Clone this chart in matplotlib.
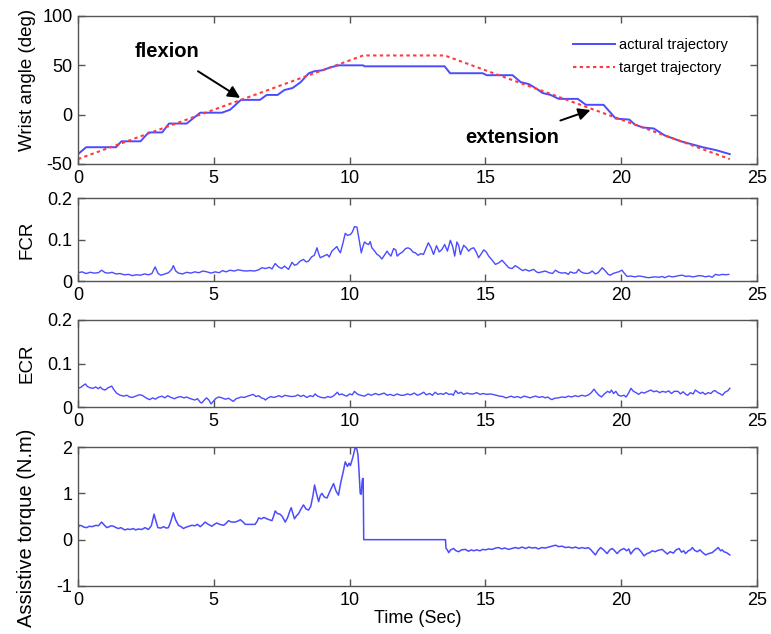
"""Wrist angle, FCR/ECR activity and assistive torque over time, four stacked panels."""

import matplotlib

matplotlib.use("Agg")

import matplotlib.pyplot as plt  # noqa: E402
from matplotlib.ticker import FormatStrFormatter  # noqa: E402

plt.rcParams["axes.unicode_minus"] = False
FONT = ["Liberation Sans", "DejaVu Sans"]

# --- panel 1: wrist angle (deg) ---
target_t = [0, 10.5, 13.5, 24]
target_deg = [-45, 60, 60, -45]

actual_t = [0, 0.3, 1.4, 1.6, 2.3, 2.6, 3.1, 3.35, 4.0, 4.5, 5.3, 5.6, 6.0,
            6.7, 6.95, 7.35, 7.6, 7.9, 8.2, 8.5, 8.7, 9.0, 9.3, 9.6, 10.0,
            10.5, 10.55, 13.5, 13.7, 14.9, 15.05, 16.0, 16.3, 16.6, 16.9,
            17.1, 17.4, 17.7, 18.4, 18.7, 19.35, 19.8, 20.3, 20.5, 20.8,
            21.2, 21.6, 22.2, 22.6, 23.0, 23.5, 24.0]
actual_deg = [-40, -33, -33, -27, -27, -18, -18, -9, -9, 2, 2, 5, 15,
              15, 20, 20, 25, 27, 33, 42, 44, 45, 48, 50, 50,
              50, 49, 49, 42, 42, 40, 40, 33, 31, 26,
              22, 20, 16, 16, 10, 10, -4, -5, -10, -13,
              -14, -21, -27, -30, -33, -36, -40]

# --- panel 2: FCR, (time, value) ---
fcr_points = [
    (0.0, 0.020), (0.15, 0.022), (0.3, 0.018), (0.45, 0.021), (0.6, 0.019),
    (0.75, 0.020), (0.87, 0.026), (1.0, 0.020), (1.12, 0.019), (1.25, 0.021),
    (1.4, 0.017), (1.55, 0.018), (1.7, 0.015), (1.86, 0.016), (2.0, 0.013),
    (2.15, 0.015), (2.3, 0.014), (2.45, 0.017), (2.6, 0.015), (2.72, 0.018),
    (2.84, 0.034), (2.95, 0.018), (3.05, 0.014), (3.2, 0.017), (3.33, 0.020),
    (3.45, 0.028), (3.51, 0.037), (3.6, 0.024), (3.7, 0.019), (3.85, 0.017),
    (4.0, 0.021), (4.15, 0.019), (4.3, 0.022), (4.45, 0.020), (4.6, 0.024),
    (4.75, 0.022), (4.9, 0.019), (5.05, 0.022), (5.2, 0.020), (5.32, 0.025),
    (5.45, 0.022), (5.6, 0.026), (5.75, 0.024), (5.9, 0.027), (6.05, 0.025),
    (6.2, 0.024), (6.35, 0.025), (6.5, 0.024), (6.65, 0.027), (6.77, 0.032),
    (6.9, 0.030), (7.05, 0.033), (7.14, 0.029), (7.26, 0.042), (7.38, 0.034),
    (7.5, 0.030), (7.6, 0.036), (7.75, 0.028), (7.88, 0.045), (7.97, 0.038),
    (8.06, 0.040), (8.18, 0.048), (8.3, 0.052), (8.4, 0.046), (8.49, 0.048),
    (8.6, 0.058), (8.7, 0.062), (8.8, 0.080), (8.86, 0.066), (8.92, 0.056),
    (9.05, 0.060), (9.17, 0.064), (9.25, 0.058), (9.35, 0.072), (9.45, 0.078),
    (9.53, 0.083), (9.6, 0.074), (9.66, 0.068), (9.75, 0.090), (9.84, 0.115),
    (9.92, 0.110), (10.03, 0.112), (10.1, 0.118), (10.18, 0.131), (10.27, 0.130),
    (10.35, 0.100), (10.43, 0.068), (10.5, 0.085), (10.55, 0.094), (10.62, 0.090),
    (10.7, 0.088), (10.76, 0.095), (10.82, 0.080), (10.9, 0.074), (11.0, 0.065),
    (11.1, 0.060), (11.19, 0.053), (11.3, 0.064), (11.38, 0.072), (11.44, 0.066),
    (11.52, 0.060), (11.62, 0.078), (11.7, 0.075), (11.75, 0.060), (11.85, 0.066),
    (11.95, 0.070), (12.06, 0.078), (12.15, 0.080), (12.24, 0.077), (12.33, 0.070),
    (12.42, 0.068), (12.52, 0.062), (12.62, 0.066), (12.72, 0.064), (12.82, 0.080),
    (12.9, 0.092), (13.0, 0.080), (13.09, 0.064), (13.2, 0.085), (13.3, 0.070),
    (13.4, 0.076), (13.5, 0.088), (13.6, 0.072), (13.71, 0.098), (13.8, 0.082),
    (13.87, 0.060), (13.95, 0.094), (14.02, 0.085), (14.08, 0.064), (14.2, 0.086),
    (14.3, 0.080), (14.38, 0.072), (14.48, 0.078), (14.57, 0.080), (14.66, 0.070),
    (14.75, 0.056), (14.85, 0.066), (14.94, 0.075), (15.03, 0.070), (15.12, 0.060),
    (15.25, 0.050), (15.37, 0.040), (15.5, 0.044), (15.61, 0.050), (15.72, 0.042),
    (15.86, 0.032), (15.98, 0.030), (16.1, 0.037), (16.2, 0.033), (16.28, 0.029),
    (16.38, 0.025), (16.47, 0.028), (16.6, 0.024), (16.78, 0.028), (16.88, 0.022),
    (16.96, 0.020), (17.08, 0.022), (17.2, 0.024), (17.35, 0.020), (17.47, 0.018),
    (17.58, 0.026), (17.7, 0.021), (17.82, 0.019), (17.95, 0.020), (18.05, 0.016),
    (18.13, 0.022), (18.25, 0.019), (18.35, 0.020), (18.43, 0.028), (18.52, 0.022),
    (18.62, 0.019), (18.75, 0.018), (18.85, 0.020), (18.93, 0.024), (19.05, 0.017),
    (19.15, 0.020), (19.3, 0.032), (19.42, 0.024), (19.52, 0.016), (19.6, 0.014),
    (19.7, 0.018), (19.79, 0.020), (19.9, 0.022), (20.03, 0.026), (20.12, 0.018),
    (20.22, 0.011), (20.35, 0.012), (20.5, 0.010), (20.65, 0.012), (20.77, 0.011),
    (20.9, 0.009), (21.0, 0.008), (21.14, 0.009), (21.25, 0.010), (21.4, 0.009),
    (21.51, 0.011), (21.6, 0.008), (21.75, 0.012), (21.88, 0.010), (22.0, 0.011),
    (22.12, 0.013), (22.25, 0.014), (22.38, 0.011), (22.5, 0.012), (22.62, 0.010),
    (22.74, 0.011), (22.85, 0.013), (23.0, 0.012), (23.1, 0.010), (23.23, 0.012),
    (23.35, 0.009), (23.47, 0.016), (23.6, 0.014), (23.72, 0.016), (23.85, 0.015),
    (23.96, 0.016),
]

# --- panel 3: ECR, (time, value) ---
ecr_points = [
    (0.0, 0.043), (0.1, 0.045), (0.2, 0.050), (0.27, 0.053), (0.35, 0.047),
    (0.45, 0.044), (0.55, 0.043), (0.65, 0.046), (0.75, 0.042), (0.82, 0.046),
    (0.9, 0.041), (1.0, 0.039), (1.1, 0.044), (1.24, 0.048), (1.32, 0.040),
    (1.42, 0.032), (1.55, 0.027), (1.68, 0.025), (1.8, 0.027), (1.9, 0.023),
    (2.0, 0.022), (2.12, 0.025), (2.25, 0.028), (2.36, 0.027), (2.48, 0.022),
    (2.56, 0.019), (2.64, 0.017), (2.75, 0.021), (2.85, 0.018), (2.95, 0.022),
    (3.09, 0.025), (3.2, 0.021), (3.3, 0.026), (3.42, 0.022), (3.55, 0.019),
    (3.65, 0.022), (3.78, 0.024), (3.9, 0.021), (4.0, 0.023), (4.1, 0.020),
    (4.2, 0.018), (4.3, 0.016), (4.4, 0.019), (4.5, 0.011), (4.55, 0.009),
    (4.62, 0.014), (4.73, 0.021), (4.82, 0.016), (4.9, 0.007), (4.98, 0.013),
    (5.08, 0.020), (5.18, 0.023), (5.3, 0.021), (5.42, 0.018), (5.55, 0.020),
    (5.64, 0.016), (5.72, 0.013), (5.82, 0.019), (5.92, 0.021), (6.0, 0.023),
    (6.12, 0.022), (6.25, 0.025), (6.35, 0.027), (6.45, 0.029), (6.55, 0.024),
    (6.65, 0.026), (6.75, 0.021), (6.85, 0.019), (6.9, 0.016), (7.0, 0.021),
    (7.1, 0.024), (7.2, 0.022), (7.27, 0.023), (7.4, 0.026), (7.5, 0.023),
    (7.62, 0.027), (7.75, 0.025), (7.88, 0.024), (8.0, 0.025), (8.1, 0.028),
    (8.2, 0.024), (8.3, 0.027), (8.42, 0.022), (8.55, 0.026), (8.65, 0.024),
    (8.73, 0.030), (8.82, 0.025), (8.95, 0.022), (9.09, 0.021), (9.2, 0.024),
    (9.3, 0.022), (9.42, 0.026), (9.55, 0.034), (9.62, 0.028), (9.72, 0.030),
    (9.8, 0.027), (9.9, 0.025), (10.0, 0.030), (10.1, 0.028), (10.18, 0.036),
    (10.28, 0.030), (10.4, 0.027), (10.55, 0.025), (10.68, 0.030), (10.8, 0.027),
    (10.95, 0.031), (11.08, 0.028), (11.18, 0.030), (11.27, 0.032), (11.38, 0.027),
    (11.5, 0.029), (11.62, 0.026), (11.75, 0.030), (11.88, 0.027), (12.0, 0.027),
    (12.12, 0.030), (12.25, 0.028), (12.38, 0.032), (12.5, 0.027), (12.62, 0.030),
    (12.73, 0.034), (12.82, 0.028), (12.95, 0.031), (13.05, 0.027), (13.15, 0.034),
    (13.25, 0.029), (13.35, 0.031), (13.45, 0.029), (13.55, 0.033), (13.65, 0.029),
    (13.75, 0.030), (13.82, 0.027), (13.9, 0.038), (14.0, 0.031), (14.1, 0.034),
    (14.2, 0.029), (14.32, 0.032), (14.45, 0.030), (14.55, 0.030), (14.68, 0.033),
    (14.8, 0.029), (14.92, 0.031), (15.05, 0.029), (15.18, 0.030), (15.27, 0.029),
    (15.4, 0.027), (15.52, 0.025), (15.65, 0.024), (15.75, 0.021), (15.82, 0.022),
    (15.95, 0.025), (16.05, 0.022), (16.18, 0.024), (16.3, 0.021), (16.42, 0.025),
    (16.55, 0.023), (16.65, 0.021), (16.73, 0.023), (16.85, 0.025), (16.98, 0.022),
    (17.1, 0.024), (17.2, 0.021), (17.3, 0.023), (17.38, 0.019), (17.45, 0.017),
    (17.55, 0.020), (17.68, 0.021), (17.82, 0.023), (17.95, 0.022), (18.05, 0.025),
    (18.18, 0.023), (18.3, 0.026), (18.42, 0.024), (18.55, 0.027), (18.68, 0.025),
    (18.8, 0.028), (18.9, 0.033), (19.0, 0.041), (19.08, 0.034), (19.18, 0.027),
    (19.27, 0.023), (19.38, 0.030), (19.5, 0.036), (19.58, 0.033), (19.64, 0.039),
    (19.72, 0.031), (19.8, 0.036), (19.9, 0.027), (20.0, 0.025), (20.1, 0.027),
    (20.18, 0.023), (20.28, 0.033), (20.36, 0.043), (20.45, 0.036), (20.55, 0.033),
    (20.64, 0.029), (20.75, 0.034), (20.85, 0.032), (20.98, 0.036), (21.09, 0.039),
    (21.2, 0.035), (21.3, 0.037), (21.42, 0.033), (21.52, 0.036), (21.64, 0.034),
    (21.75, 0.037), (21.85, 0.031), (21.95, 0.036), (22.09, 0.036), (22.18, 0.030),
    (22.28, 0.035), (22.38, 0.029), (22.45, 0.027), (22.55, 0.033), (22.65, 0.030),
    (22.73, 0.039), (22.82, 0.035), (22.92, 0.031), (23.0, 0.034), (23.09, 0.029),
    (23.2, 0.033), (23.3, 0.031), (23.38, 0.036), (23.45, 0.038), (23.55, 0.033),
    (23.65, 0.030), (23.73, 0.027), (23.82, 0.034), (23.92, 0.037), (24.0, 0.043),
]

# --- panel 4: assistive torque (N.m), (time, value) ---
torque_points = [
    (0.0, 0.26), (0.06, 0.31), (0.13, 0.30), (0.22, 0.27), (0.32, 0.26),
    (0.42, 0.29), (0.5, 0.28), (0.57, 0.29), (0.66, 0.31), (0.75, 0.30),
    (0.87, 0.38), (0.96, 0.32), (1.06, 0.26), (1.15, 0.28), (1.22, 0.30),
    (1.3, 0.29), (1.4, 0.26), (1.49, 0.24), (1.58, 0.26), (1.66, 0.23),
    (1.73, 0.21), (1.82, 0.23), (1.92, 0.22), (2.04, 0.24), (2.12, 0.21),
    (2.22, 0.23), (2.35, 0.22), (2.47, 0.26), (2.59, 0.22), (2.7, 0.30),
    (2.8, 0.55), (2.87, 0.40), (2.94, 0.26), (3.05, 0.25), (3.15, 0.28),
    (3.25, 0.25), (3.33, 0.26), (3.42, 0.40), (3.51, 0.58), (3.6, 0.42),
    (3.7, 0.31), (3.8, 0.28), (3.88, 0.24), (3.98, 0.27), (4.08, 0.29),
    (4.19, 0.31), (4.3, 0.30), (4.4, 0.33), (4.5, 0.28), (4.6, 0.33),
    (4.68, 0.38), (4.8, 0.33), (4.93, 0.29), (5.02, 0.33), (5.11, 0.36),
    (5.22, 0.33), (5.36, 0.31), (5.45, 0.35), (5.54, 0.41), (5.65, 0.38),
    (5.79, 0.38), (5.88, 0.40), (5.98, 0.43), (6.08, 0.38), (6.16, 0.33),
    (6.3, 0.33), (6.42, 0.33), (6.52, 0.33), (6.6, 0.40), (6.65, 0.47),
    (6.75, 0.45), (6.85, 0.48), (6.95, 0.45), (7.05, 0.43), (7.14, 0.41),
    (7.2, 0.50), (7.26, 0.62), (7.35, 0.56), (7.44, 0.55), (7.52, 0.50),
    (7.63, 0.38), (7.72, 0.48), (7.8, 0.62), (7.85, 0.69), (7.92, 0.55),
    (7.97, 0.45), (8.05, 0.52), (8.12, 0.56), (8.2, 0.65), (8.3, 0.75),
    (8.4, 0.66), (8.49, 0.64), (8.57, 0.72), (8.65, 0.95), (8.71, 1.18),
    (8.78, 1.00), (8.86, 0.82), (8.92, 0.95), (8.98, 1.00), (9.07, 0.92),
    (9.17, 0.90), (9.28, 1.05), (9.36, 1.15), (9.41, 1.21), (9.5, 1.05),
    (9.59, 0.96), (9.68, 1.25), (9.76, 1.45), (9.84, 1.68), (9.92, 1.58),
    (9.98, 1.65), (10.03, 1.60), (10.12, 1.78), (10.21, 2.00), (10.27, 1.95),
    (10.31, 1.82), (10.35, 1.45), (10.39, 1.00), (10.43, 0.98), (10.46, 1.25),
    (10.48, 1.32), (10.5, 1.32), (10.52, 0.00), (13.53, 0.00), (13.55, -0.19),
    (13.6, -0.22), (13.65, -0.28), (13.72, -0.22), (13.83, -0.19), (13.92, -0.24),
    (14.02, -0.26), (14.12, -0.22), (14.26, -0.21), (14.38, -0.25), (14.48, -0.22),
    (14.57, -0.24), (14.68, -0.22), (14.8, -0.24), (14.9, -0.21), (15.0, -0.22),
    (15.12, -0.20), (15.25, -0.21), (15.38, -0.18), (15.49, -0.17), (15.6, -0.20),
    (15.72, -0.18), (15.85, -0.21), (15.98, -0.19), (16.1, -0.17), (16.22, -0.19),
    (16.35, -0.16), (16.48, -0.19), (16.6, -0.16), (16.72, -0.18), (16.84, -0.17),
    (16.95, -0.20), (17.08, -0.17), (17.2, -0.18), (17.33, -0.16), (17.45, -0.14),
    (17.58, -0.12), (17.7, -0.15), (17.82, -0.14), (17.95, -0.17), (18.07, -0.16),
    (18.2, -0.18), (18.32, -0.16), (18.45, -0.19), (18.56, -0.17), (18.68, -0.19),
    (18.78, -0.17), (18.87, -0.21), (18.96, -0.27), (19.05, -0.33), (19.14, -0.24),
    (19.24, -0.17), (19.35, -0.22), (19.48, -0.30), (19.58, -0.22), (19.67, -0.19),
    (19.76, -0.24), (19.85, -0.30), (19.96, -0.23), (20.1, -0.19), (20.2, -0.24),
    (20.28, -0.20), (20.35, -0.31), (20.44, -0.24), (20.53, -0.19), (20.62, -0.19),
    (20.72, -0.25), (20.84, -0.35), (20.95, -0.30), (21.05, -0.28), (21.14, -0.24),
    (21.25, -0.26), (21.36, -0.23), (21.51, -0.21), (21.6, -0.26), (21.7, -0.31),
    (21.8, -0.26), (21.92, -0.29), (22.02, -0.22), (22.13, -0.19), (22.22, -0.27),
    (22.3, -0.24), (22.37, -0.30), (22.47, -0.24), (22.55, -0.22), (22.62, -0.17),
    (22.7, -0.23), (22.8, -0.26), (22.9, -0.22), (23.0, -0.28), (23.11, -0.33),
    (23.22, -0.30), (23.35, -0.28), (23.45, -0.23), (23.57, -0.17), (23.66, -0.24),
    (23.72, -0.22), (23.78, -0.26), (23.88, -0.28), (24.0, -0.33),
]

BLUE = "#4b4bff"
RED = "#ff3b3b"
SPINE = "#555555"

W, H = 771, 634
LEFT, RIGHT = 78, 757
# (top, bottom) of each panel in pixels
PANELS = [(16, 164), (198, 281), (320, 407), (447, 586)]

fig = plt.figure(figsize=(W / 100, H / 100), dpi=100)
axes = []
for top, bottom in PANELS:
    ax = fig.add_axes([LEFT / W, (H - bottom) / H, (RIGHT - LEFT) / W, (bottom - top) / H])
    axes.append(ax)

ax1, ax2, ax3, ax4 = axes

ax1.plot(actual_t, actual_deg, color=BLUE, lw=1.4, label="actural trajectory")
ax1.plot(target_t, target_deg, color=RED, lw=1.5, ls=(0, (1.6, 1.6)), label="target trajectory")
ax1.set_ylim(-50, 100)
ax1.set_yticks([-50, 0, 50, 100])

fcr_t, fcr_v = zip(*fcr_points)
ecr_t, ecr_v = zip(*ecr_points)
torque_t, torque_v = zip(*torque_points)

ax2.plot(fcr_t, fcr_v, color=BLUE, lw=1.0)
ax3.plot(ecr_t, ecr_v, color=BLUE, lw=1.0)
for ax in (ax2, ax3):
    ax.set_ylim(0, 0.2)
    ax.set_yticks([0, 0.1, 0.2])
    ax.yaxis.set_major_formatter(FormatStrFormatter("%g"))

ax4.plot(torque_t, torque_v, color=BLUE, lw=1.1)
ax4.set_ylim(-1, 2)
ax4.set_yticks([-1, 0, 1, 2])

ylabels = ["Wrist angle (deg)", "FCR", "ECR", "Assistive torque (N.m)"]
label_y = [0.57, 0.5, 0.5, 0.42]
for ax, label, ly in zip(axes, ylabels, label_y):
    ax.set_xlim(0, 25)
    ax.set_xticks([0, 5, 10, 15, 20, 25])
    ax.tick_params(direction="in", length=5, width=1, top=True, right=True,
                   color=SPINE, labelsize=13)
    ax.tick_params(axis="x", pad=4)
    ax.tick_params(axis="y", pad=4)
    for tl in ax.get_xticklabels() + ax.get_yticklabels():
        tl.set_family(FONT)
    for spine in ax.spines.values():
        spine.set_color(SPINE)
        spine.set_linewidth(1.0)
    ax.set_ylabel(label, family=FONT, fontsize=13.5)
    ax.yaxis.set_label_coords(-0.062, ly)

ax4.yaxis.label.set_fontsize(14.5)
ax4.set_xlabel("Time (Sec)", family=FONT, fontsize=13, labelpad=1)

# annotations on the angle panel
ax1.annotate("flexion", xy=(5.97, 17), xytext=(3.27, 64), ha="center", va="center",
             fontsize=14.5, fontweight="bold", family=FONT,
             arrowprops=dict(arrowstyle="-|>", color="black", lw=1.4,
                             mutation_scale=18, shrinkA=10, shrinkB=0))
ax1.annotate("extension", xy=(18.87, 4.7), xytext=(15.98, -23), ha="center", va="center",
             fontsize=14.5, fontweight="bold", family=FONT,
             arrowprops=dict(arrowstyle="-|>", color="black", lw=1.4,
                             mutation_scale=18, shrinkA=10, shrinkB=0))

ax1.legend(loc="upper left", bbox_to_anchor=((573 - LEFT) / (RIGHT - LEFT), 0.85),
           frameon=False, borderpad=0, borderaxespad=0, handlelength=2.9,
           handletextpad=0.25, labelspacing=0.6, prop={"family": FONT, "size": 10.5})

fig.savefig("out.png", dpi=100)
